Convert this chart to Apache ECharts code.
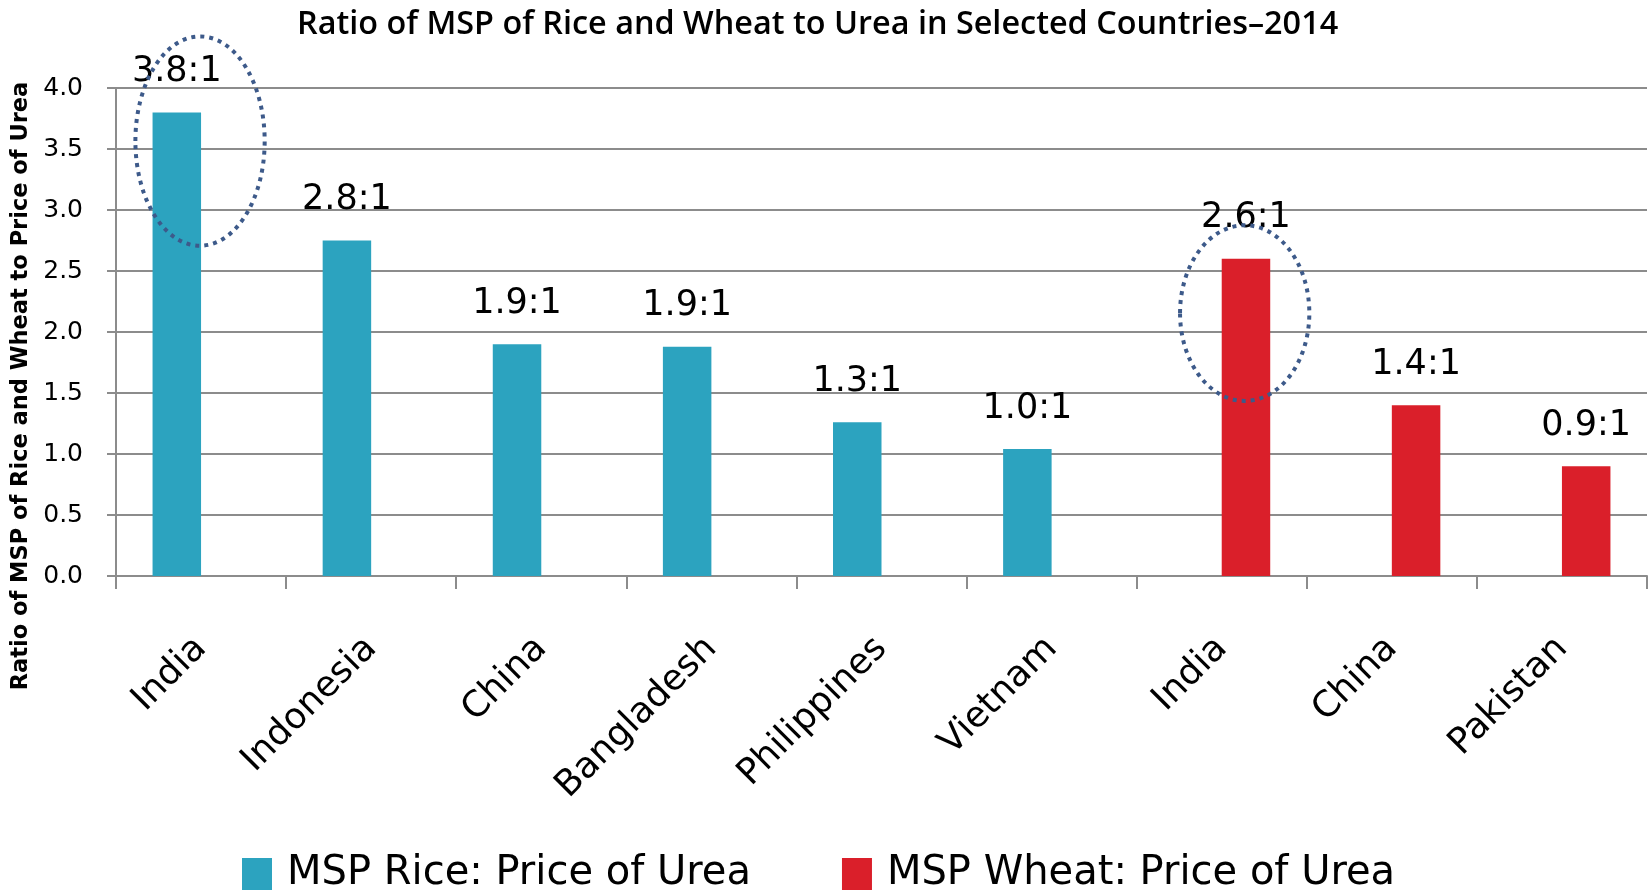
<!DOCTYPE html>
<html><head><meta charset="utf-8">
<script src="https://cdn.jsdelivr.net/npm/echarts@6/dist/echarts.min.js"></script>
<style>html,body{margin:0;padding:0;background:#fff}#c{width:1652px;height:890px}</style>
</head><body><div id="c"></div>
<script>
const categories = ['India', 'Indonesia', 'China', 'Bangladesh', 'Philippines', 'Vietnam', 'India', 'China', 'Pakistan'];
const riceRatio = [3.80, 2.75, 1.90, 1.88, 1.26, 1.04, null, null, null];
const wheatRatio = [null, null, null, null, null, null, 2.60, 1.40, 0.90];
const riceLabels = ['3.8:1', '2.8:1', '1.9:1', '1.9:1', '1.3:1', '1.0:1', '', '', ''];
const wheatLabels = ['', '', '', '', '', '', '2.6:1', '1.4:1', '0.9:1'];
const seriesNames = ['MSP Rice: Price of Urea', 'MSP Wheat: Price of Urea'];
const chartTitle = 'Ratio of MSP of Rice and Wheat to Urea in Selected Countries–2014';
const yAxisTitle = 'Ratio of MSP of Rice and Wheat to Price of Urea';
// highlighted (dotted) rings: [category index, centre value, half height in value units]
const ringCat = [0, 6];
const ringCentre = [3.565, 2.155];
const ringHalfHeight = [0.858, 0.72];

const BLUE = '#2ca3bf', RED = '#da1f2a', GRID = '#8c8c8c';
const FONT = 'DejaVu Sans';
const ringShift = [-0.006, 0.135]; // fraction of a band

const chart = echarts.init(document.getElementById('c'));
chart.setOption({
  animation: false,
  backgroundColor: '#fff',
  title: {
    text: chartTitle, left: 297, top: 9, padding: 0,
    textStyle: { fontFamily: 'Open Sans', fontWeight: 600, fontSize: 32.4, color: '#000' }
  },
  legend: {
    data: seriesNames, left: 242, top: 854, padding: 0,
    itemWidth: 30, itemHeight: 32, itemGap: 91, icon: 'rect',
    textStyle: { fontFamily: FONT, fontSize: 40, color: '#000', padding: [0, 0, 24, 10] }
  },
  grid: { left: 116, right: 5, top: 88, bottom: 314, containLabel: false },
  xAxis: {
    type: 'category', data: categories,
    axisLine: { lineStyle: { color: GRID, width: 2 } },
    axisTick: { show: true, length: 13, lineStyle: { color: GRID, width: 2 } },
    axisLabel: { interval: 0, rotate: 45, margin: 67,
      fontFamily: FONT, fontSize: 36, color: '#000' }
  },
  yAxis: {
    type: 'value', min: 0, max: 4, interval: 0.5,
    name: yAxisTitle, nameLocation: 'middle', nameGap: 64, nameRotate: 90,
    nameTextStyle: { fontFamily: FONT, fontWeight: 'bold', fontSize: 22.5, color: '#000', padding: [0, 108, 0, 0] },
    axisLine: { show: true, lineStyle: { color: GRID, width: 2 } },
    axisTick: { show: true, length: 9, lineStyle: { color: GRID, width: 2 } },
    splitLine: { lineStyle: { color: GRID, width: 2 } },
    axisLabel: { formatter: v => v.toFixed(1), margin: 33, fontFamily: FONT, fontSize: 25, color: '#000' }
  },
  series: [
    {
      name: seriesNames[0], type: 'bar', data: riceRatio, barWidth: 48.5, barGap: '0%',
      itemStyle: { color: BLUE },
      label: { show: true, position: 'top', distance: 23, formatter: p => riceLabels[p.dataIndex],
        fontFamily: FONT, fontSize: 35, color: '#000' }
    },
    {
      name: seriesNames[1], type: 'bar', data: wheatRatio, barWidth: 48.5, barGap: '0%',
      itemStyle: { color: RED },
      label: { show: true, position: 'top', distance: 23, formatter: p => wheatLabels[p.dataIndex],
        fontFamily: FONT, fontSize: 35, color: '#000' }
    },
    {
      type: 'custom', name: 'rings', silent: true, clip: false, z: 5,
      data: ringCat.map((c, i) => [c, ringCentre[i], ringHalfHeight[i]]),
      encode: { x: 0, y: 1 },
      renderItem: (params, api) => {
        const i = params.dataIndex;
        const c = api.coord([api.value(0), api.value(1)]);
        const band = api.size([1, 0])[0];
        const unit = api.size([0, 1])[1];
        return {
          type: 'ellipse',
          shape: { cx: c[0] + ringShift[i] * band, cy: c[1], rx: 0.38 * band, ry: api.value(2) * unit },
          style: { fill: 'none', stroke: '#3d5a8a', lineWidth: 4, lineDash: [4, 5] }
        };
      }
    }
  ]
});
</script></body></html>
